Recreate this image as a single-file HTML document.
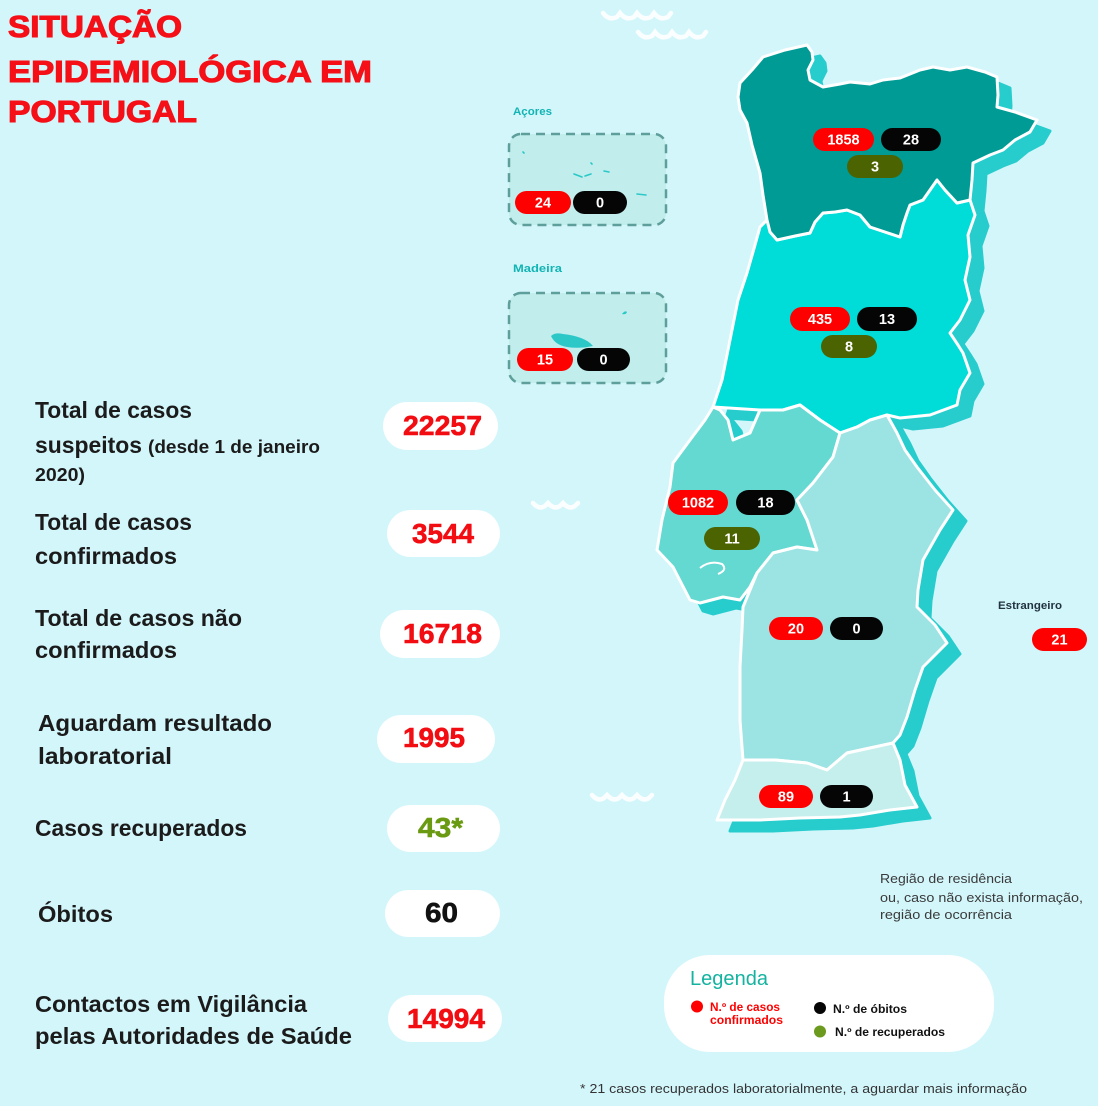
<!DOCTYPE html>
<html><head><meta charset="utf-8"><style>html,body{margin:0;padding:0;background:#d3f6fb;}svg{display:block;}</style></head>
<body>
<svg width="1098" height="1106" viewBox="0 0 1098 1106" xmlns="http://www.w3.org/2000/svg" font-family="'Liberation Sans', sans-serif">
<rect width="1098" height="1106" fill="#d3f6fb"/>

<!-- waves -->
<g fill="none" stroke="#ffffff" stroke-width="4.5" stroke-linecap="round" opacity="0.9">
<path d="M603,13 q6,8 14,4 l3,-4 q6,8 14,4 l3,-4 q6,8 14,4 l3,-4 q6,8 14,4 l3,-4"/>
<path d="M638,32 q6,8 14,4 l3,-4 q6,8 14,4 l3,-4 q6,8 14,4 l3,-4 q6,8 14,4 l3,-4"/>
<path d="M533,503 q6,7 12,3 l3,-3 q6,7 12,3 l3,-3 q6,7 12,3 l3,-3"/>
<path d="M592,795 q6,7 12,3 l3,-3 q6,7 12,3 l3,-3 q6,7 12,3 l3,-3 q6,7 12,3 l3,-3"/>
</g>

<!-- map shadow -->
<g transform="translate(13,11)" fill="#27cccd" stroke="#27cccd" stroke-width="3" stroke-linejoin="round">
<polygon points="767,220 777,240 795,236 810,233 815,222 823,213 835,212 847,210 860,215 870,227 885,232 900,237 903,225 907,213 910,205 923,200 930,190 937,180 945,190 957,203 970,200 975,215 968,235 970,257 965,280 970,300 960,320 950,333 958,345 963,353 970,373 960,390 957,405 930,415 900,418 887,415 857,427 840,433 820,420 800,405 783,410 760,410 713,407 722,380 730,340 738,300 747,273 755,245 760,227"/>
<polygon points="713,407 720,410 728,420 733,440 750,433 760,410 783,410 800,405 820,420 840,433 833,457 813,483 797,500 807,520 815,535 817,550 797,547 773,553 757,573 750,587 740,600 723,597 700,603 690,600 673,567 657,550 662,520 670,487 673,463 690,440 705,420"/>
<polygon points="743,607 757,573 773,553 797,547 817,550 807,520 797,500 813,483 833,457 840,433 857,427 870,420 887,415 897,433 905,450 917,467 935,490 953,510 940,530 923,560 918,590 917,607 935,625 947,643 935,655 923,667 915,690 907,717 900,735 893,743 870,748 847,753 827,770 807,763 775,760 743,760 740,720 740,667 742,630"/>
<polygon points="743,760 775,760 807,763 827,770 847,753 870,748 893,743 900,760 905,785 917,807 890,810 860,815 840,817 800,818 760,820 717,820 725,800 735,780"/>
<polygon points="738,97 740,83 752,70 763,57 785,50 807,45 812,52 813,60 808,70 810,80 823,87 840,84 850,82 870,84 883,80 900,78 920,70 933,67 950,70 967,67 985,72 997,77 998,95 997,107 1015,112 1037,120 1030,132 1015,140 1003,150 990,155 973,163 972,180 970,200 957,203 945,190 937,180 930,190 923,200 910,205 907,213 903,225 900,237 885,232 870,227 860,215 847,210 835,212 823,213 815,222 810,233 795,236 777,240 770,232 767,220 763,195 760,173 752,145 747,123 740,110"/>
</g>

<!-- map regions -->
<g stroke="#ffffff" stroke-width="3" stroke-linejoin="round">
<polygon fill="#00ddd8" points="767,220 777,240 795,236 810,233 815,222 823,213 835,212 847,210 860,215 870,227 885,232 900,237 903,225 907,213 910,205 923,200 930,190 937,180 945,190 957,203 970,200 975,215 968,235 970,257 965,280 970,300 960,320 950,333 958,345 963,353 970,373 960,390 957,405 930,415 900,418 887,415 857,427 840,433 820,420 800,405 783,410 760,410 713,407 722,380 730,340 738,300 747,273 755,245 760,227"/>
<polygon fill="#64d9d2" points="713,407 720,410 728,420 733,440 750,433 760,410 783,410 800,405 820,420 840,433 833,457 813,483 797,500 807,520 815,535 817,550 797,547 773,553 757,573 750,587 740,600 723,597 700,603 690,600 673,567 657,550 662,520 670,487 673,463 690,440 705,420"/>
<polygon fill="#9ce3e3" points="743,607 757,573 773,553 797,547 817,550 807,520 797,500 813,483 833,457 840,433 857,427 870,420 887,415 897,433 905,450 917,467 935,490 953,510 940,530 923,560 918,590 917,607 935,625 947,643 935,655 923,667 915,690 907,717 900,735 893,743 870,748 847,753 827,770 807,763 775,760 743,760 740,720 740,667 742,630"/>
<polygon fill="#c5efec" points="743,760 775,760 807,763 827,770 847,753 870,748 893,743 900,760 905,785 917,807 890,810 860,815 840,817 800,818 760,820 717,820 725,800 735,780"/>
<polygon fill="#009b94" points="738,97 740,83 752,70 763,57 785,50 807,45 812,52 813,60 808,70 810,80 823,87 840,84 850,82 870,84 883,80 900,78 920,70 933,67 950,70 967,67 985,72 997,77 998,95 997,107 1015,112 1037,120 1030,132 1015,140 1003,150 990,155 973,163 972,180 970,200 957,203 945,190 937,180 930,190 923,200 910,205 907,213 903,225 900,237 885,232 870,227 860,215 847,210 835,212 823,213 815,222 810,233 795,236 777,240 770,232 767,220 763,195 760,173 752,145 747,123 740,110"/>
</g>
<path d="M700,568 q10,-8 22,-4 q6,6 -4,10" fill="none" stroke="#ffffff" stroke-width="2"/>

<!-- islands -->
<text x="513" y="115" font-size="11" font-weight="bold" fill="#12b4b4" textLength="39" lengthAdjust="spacingAndGlyphs">Açores</text>
<rect x="509" y="134" width="157" height="91" rx="12" fill="#c1eeec" stroke="#5e9e9b" stroke-width="2.5" stroke-dasharray="9 6"/>
<g stroke="#2cc8c8" stroke-width="1.6" fill="none" stroke-linecap="round">
<path d="M574,174 l8,3"/><path d="M585,176 l6,-2"/><path d="M604,171 l5,1"/><path d="M637,194 l9,1"/><path d="M523,152 l1,1"/><path d="M591,163 l1,1"/>
</g>
<text x="513" y="272" font-size="11" font-weight="bold" fill="#12b4b4" textLength="49" lengthAdjust="spacingAndGlyphs">Madeira</text>
<rect x="509" y="293" width="157" height="90" rx="12" fill="#c1eeec" stroke="#5e9e9b" stroke-width="2.5" stroke-dasharray="9 6"/>
<path d="M551,336 q4,-4 12,-2 q10,1 18,4 q8,3 12,8 q-14,3 -26,1 q-12,-2 -16,-11z" fill="#2cc8c8"/>
<path d="M622,314 q3,-4 5,-2 q-1,3 -5,2z" fill="#2cc8c8"/>

<!-- badges -->
<g font-size="14.5" font-weight="bold" fill="#ffffff" text-anchor="middle">
<rect x="813" y="128" width="61" height="23" rx="11.5" fill="#ff0000"/><text x="843.5" y="144.5">1858</text>
<rect x="881" y="128" width="60" height="23" rx="11.5" fill="#050505"/><text x="911" y="144.5">28</text>
<rect x="847" y="155" width="56" height="23" rx="11.5" fill="#4b6300"/><text x="875" y="171.5">3</text>

<rect x="790" y="307" width="60" height="24" rx="12" fill="#ff0000"/><text x="820" y="324">435</text>
<rect x="857" y="307" width="60" height="24" rx="12" fill="#050505"/><text x="887" y="324">13</text>
<rect x="821" y="335" width="56" height="23" rx="11.5" fill="#4b6300"/><text x="849" y="351.5">8</text>

<rect x="668" y="490" width="60" height="25" rx="12.5" fill="#ff0000"/><text x="698" y="507.5">1082</text>
<rect x="736" y="490" width="59" height="25" rx="12.5" fill="#050505"/><text x="765.5" y="507.5">18</text>
<rect x="704" y="527" width="56" height="23" rx="11.5" fill="#4b6300"/><text x="732" y="543.5">11</text>

<rect x="769" y="617" width="54" height="23" rx="11.5" fill="#ff0000"/><text x="796" y="633.5">20</text>
<rect x="830" y="617" width="53" height="23" rx="11.5" fill="#050505"/><text x="856.5" y="633.5">0</text>

<rect x="759" y="785" width="54" height="23" rx="11.5" fill="#ff0000"/><text x="786" y="801.5">89</text>
<rect x="820" y="785" width="53" height="23" rx="11.5" fill="#050505"/><text x="846.5" y="801.5">1</text>

<rect x="1032" y="628" width="55" height="23" rx="11.5" fill="#ff0000"/><text x="1059.5" y="644.5">21</text>

<rect x="515" y="191" width="56" height="23" rx="11.5" fill="#ff0000"/><text x="543" y="207.5">24</text>
<rect x="573" y="191" width="54" height="23" rx="11.5" fill="#050505"/><text x="600" y="207.5">0</text>

<rect x="517" y="348" width="56" height="23" rx="11.5" fill="#ff0000"/><text x="545" y="364.5">15</text>
<rect x="577" y="348" width="53" height="23" rx="11.5" fill="#050505"/><text x="603.5" y="364.5">0</text>
</g>

<text x="998" y="609" font-size="11" font-weight="bold" fill="#223340" textLength="64" lengthAdjust="spacingAndGlyphs">Estrangeiro</text>

<!-- title -->
<g font-size="31" font-weight="bold" fill="#f50f17" stroke="#f50f17" stroke-width="1.1">
<text x="8" y="37" textLength="174" lengthAdjust="spacingAndGlyphs">SITUAÇÃO</text>
<text x="8" y="82" textLength="364" lengthAdjust="spacingAndGlyphs">EPIDEMIOLÓGICA EM</text>
<text x="8" y="122" textLength="189" lengthAdjust="spacingAndGlyphs">PORTUGAL</text>
</g>

<!-- left labels -->
<g font-size="23" font-weight="bold" fill="#1b1b1b">
<text x="35" y="418" textLength="157" lengthAdjust="spacingAndGlyphs">Total de casos</text>
<text x="35" y="453" textLength="107" lengthAdjust="spacingAndGlyphs">suspeitos</text>
<text x="148" y="453" font-size="18" textLength="172" lengthAdjust="spacingAndGlyphs">(desde 1 de janeiro</text>
<text x="35" y="481" font-size="18" textLength="50" lengthAdjust="spacingAndGlyphs">2020)</text>
<text x="35" y="530" textLength="157" lengthAdjust="spacingAndGlyphs">Total de casos</text>
<text x="35" y="564" textLength="142" lengthAdjust="spacingAndGlyphs">confirmados</text>
<text x="35" y="626" textLength="207" lengthAdjust="spacingAndGlyphs">Total de casos não</text>
<text x="35" y="658" textLength="142" lengthAdjust="spacingAndGlyphs">confirmados</text>
<text x="38" y="731" textLength="234" lengthAdjust="spacingAndGlyphs">Aguardam resultado</text>
<text x="38" y="764" textLength="134" lengthAdjust="spacingAndGlyphs">laboratorial</text>
<text x="35" y="836" textLength="212" lengthAdjust="spacingAndGlyphs">Casos recuperados</text>
<text x="38" y="922" textLength="75" lengthAdjust="spacingAndGlyphs">Óbitos</text>
<text x="35" y="1012" textLength="272" lengthAdjust="spacingAndGlyphs">Contactos em Vigilância</text>
<text x="35" y="1044" textLength="317" lengthAdjust="spacingAndGlyphs">pelas Autoridades de Saúde</text>
</g>

<!-- value pills -->
<g fill="#ffffff">
<rect x="383" y="402" width="115" height="48" rx="24"/>
<rect x="387" y="510" width="113" height="47" rx="23.5"/>
<rect x="380" y="610" width="120" height="48" rx="24"/>
<rect x="377" y="715" width="118" height="48" rx="24"/>
<rect x="387" y="805" width="113" height="47" rx="23.5"/>
<rect x="385" y="890" width="115" height="47" rx="23.5"/>
<rect x="388" y="995" width="114" height="47" rx="23.5"/>
</g>
<g font-size="28" font-weight="bold" stroke-width="0.6">
<text x="403" y="435" fill="#f20d12" stroke="#f20d12" textLength="79" lengthAdjust="spacingAndGlyphs">22257</text>
<text x="412" y="543" fill="#f20d12" stroke="#f20d12" textLength="62" lengthAdjust="spacingAndGlyphs">3544</text>
<text x="403" y="643" fill="#f20d12" stroke="#f20d12" textLength="79" lengthAdjust="spacingAndGlyphs">16718</text>
<text x="403" y="747" fill="#f20d12" stroke="#f20d12" textLength="62" lengthAdjust="spacingAndGlyphs">1995</text>
<text x="418" y="837" fill="#6a9a12" stroke="#6a9a12" textLength="45" lengthAdjust="spacingAndGlyphs">43*</text>
<text x="425" y="922" fill="#111111" stroke="#111111" textLength="33" lengthAdjust="spacingAndGlyphs">60</text>
<text x="407" y="1028" fill="#f20d12" stroke="#f20d12" textLength="78" lengthAdjust="spacingAndGlyphs">14994</text>
</g>

<!-- note -->
<g font-size="13" fill="#3a3a3a">
<text x="880" y="883" textLength="132" lengthAdjust="spacingAndGlyphs">Região de residência</text>
<text x="880" y="902" textLength="203" lengthAdjust="spacingAndGlyphs">ou, caso não exista informação,</text>
<text x="880" y="919" textLength="132" lengthAdjust="spacingAndGlyphs">região de ocorrência</text>
</g>

<!-- legend -->
<rect x="664" y="955" width="330" height="97" rx="46" fill="#ffffff"/>
<text x="690" y="985" font-size="20" fill="#14b3a0" textLength="78" lengthAdjust="spacingAndGlyphs">Legenda</text>
<circle cx="697" cy="1006.5" r="6" fill="#ff0000"/>
<g font-size="11.5" font-weight="bold">
<text x="710" y="1011" fill="#ff0000" textLength="70" lengthAdjust="spacingAndGlyphs">N.º de casos</text>
<text x="710" y="1024" fill="#ff0000" textLength="73" lengthAdjust="spacingAndGlyphs">confirmados</text>
<text x="833" y="1013" fill="#111111" textLength="74" lengthAdjust="spacingAndGlyphs">N.º de óbitos</text>
<text x="835" y="1036" fill="#111111" textLength="110" lengthAdjust="spacingAndGlyphs">N.º de recuperados</text>
</g>
<circle cx="820" cy="1008" r="6" fill="#050505"/>
<circle cx="820" cy="1031.5" r="6" fill="#6b9a1e"/>

<!-- footnote -->
<text x="580" y="1093" font-size="13" fill="#333333" textLength="447" lengthAdjust="spacingAndGlyphs">* 21 casos recuperados laboratorialmente, a aguardar mais informação</text>
</svg>
</body></html>
